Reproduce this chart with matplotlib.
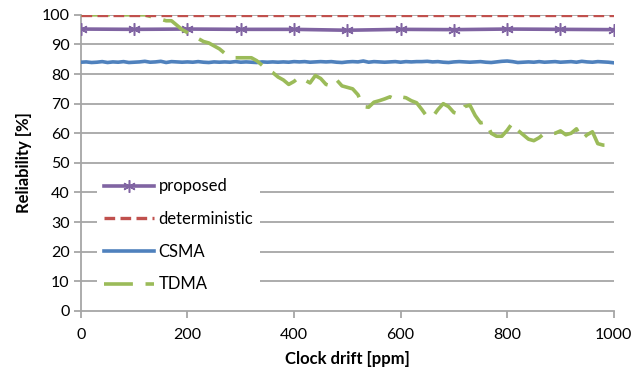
import matplotlib
matplotlib.use("Agg")
import matplotlib.pyplot as plt
import numpy as np

plt.rcParams['font.family'] = ['Lato', 'DejaVu Sans']

drift_fine = list(range(0, 1001, 10))
drift_coarse = list(range(0, 1001, 100))

proposed = [95.2, 95.1, 95.2, 95.1, 95.1, 94.8, 95.1, 95.0, 95.2, 95.1, 95.0]
deterministic = [100.0] * len(drift_coarse)

csma = [84.0, 84.1, 83.9, 84.0, 84.2, 83.9, 84.1, 84.0, 84.2, 83.9,
        84.0, 84.1, 84.3, 84.0, 84.1, 84.3, 83.9, 84.2, 84.1, 84.0,
        84.1, 84.0, 84.2, 84.0, 83.9, 84.1, 84.0, 84.1, 84.0, 84.2,
        84.0, 84.1, 84.0, 83.9, 84.1, 84.0, 84.1, 84.0, 84.1, 84.0,
        84.2, 84.1, 84.2, 84.0, 84.1, 84.2, 84.1, 84.2, 84.0, 83.9,
        84.1, 84.2, 84.1, 84.4, 84.0, 84.2, 84.1, 84.0, 84.1, 84.2,
        84.0, 84.2, 84.1, 84.2, 84.2, 84.3, 84.1, 84.2, 84.0, 83.9,
        84.1, 84.2, 84.1, 84.0, 84.1, 84.2, 84.0, 83.9, 84.1, 84.3,
        84.4, 84.2, 83.9, 84.0, 84.1, 84.0, 84.2, 84.0, 84.1, 84.2,
        84.0, 84.1, 84.2, 84.0, 84.3, 84.1, 84.0, 84.2, 84.1, 84.0, 83.8]

tdma = [100, 100, 100, 100, 100, 100, 100, 100, 100, 100,
        100, 100, 100, 99.5, 99, 98.5, 98, 98, 96.5, 95,
        94, 93, 92, 91, 90.5, 89.5, 88.5, 87, 86, 85.5,
        85.5, 85.5, 85.5, 84.5, 83, 81.5, 80.5, 79, 78, 76.5,
        77.5, 79, 78, 77, 79.5, 78.5, 76.5, 76, 78, 76,
        75.5, 75, 73, 69, 68.8, 70.5, 71, 71.6, 72.3, 71.5,
        72.3, 72, 71, 70.3, 68, 65.5, 65.5, 68, 70, 69,
        67, 66.5, 69, 69.5, 66, 63.5, 63.9, 60, 59, 59,
        61, 63.5, 61, 59.5, 58, 57.5, 58.5, 60, 60, 60,
        60.8, 59.5, 60, 61.5, 58, 59.5, 60.5, 56.5, 56, 56, 55]

fig = plt.figure(figsize=(6.42, 3.71), dpi=100)
ax = fig.add_axes([0.126, 0.162, 0.830, 0.798])

grid_c = '#A6A6A6'
for v in range(10, 101, 10):
    ax.axhline(v, color=grid_c, lw=1.3, zorder=0)

ax.plot(drift_coarse, proposed, color='#8064A2', lw=2.6, marker=(6, 2, 0),
        ms=9, mew=1.1, label='proposed', zorder=3)
ax.plot(drift_coarse, deterministic, color='#C0504D', lw=2.4,
        dashes=(3.2, 1.6), label='deterministic', zorder=4)
ax.plot(drift_fine, csma, color='#4F81BD', lw=2.6, label='CSMA', zorder=3)
ax.plot(drift_fine, tdma, color='#9BBB59', lw=2.6, dashes=(8, 3.5),
        label='TDMA', zorder=3)

ax.set_xlim(0, 1000)
ax.set_ylim(0, 100)
ax.set_xticks(range(0, 1001, 200))
ax.set_yticks(range(0, 101, 10))
for s in ['top', 'right']:
    ax.spines[s].set_visible(False)
for s in ['left', 'bottom']:
    ax.spines[s].set_color(grid_c)
    ax.spines[s].set_linewidth(1.3)
ax.tick_params(axis='both', colors=grid_c, length=5, width=1.3,
               labelcolor='black', labelsize=11.5)
ax.tick_params(axis='y', pad=3)
ax.tick_params(axis='x', pad=7)
ax.set_xlabel('Clock drift [ppm]', fontsize=12, fontweight='bold', labelpad=7)
ax.set_ylabel('Reliability [%]', fontsize=12, fontweight='bold', labelpad=7)

leg = ax.legend(loc='lower left', bbox_to_anchor=(0.03, 0.04), frameon=True,
                fontsize=12, handlelength=3.0, labelspacing=1.0,
                borderaxespad=0, handletextpad=0.3, borderpad=0.4,
                fancybox=False)
leg.get_frame().set_facecolor('white')
leg.get_frame().set_edgecolor('none')
leg.get_frame().set_alpha(1)

fig.savefig('out.png', dpi=100)
